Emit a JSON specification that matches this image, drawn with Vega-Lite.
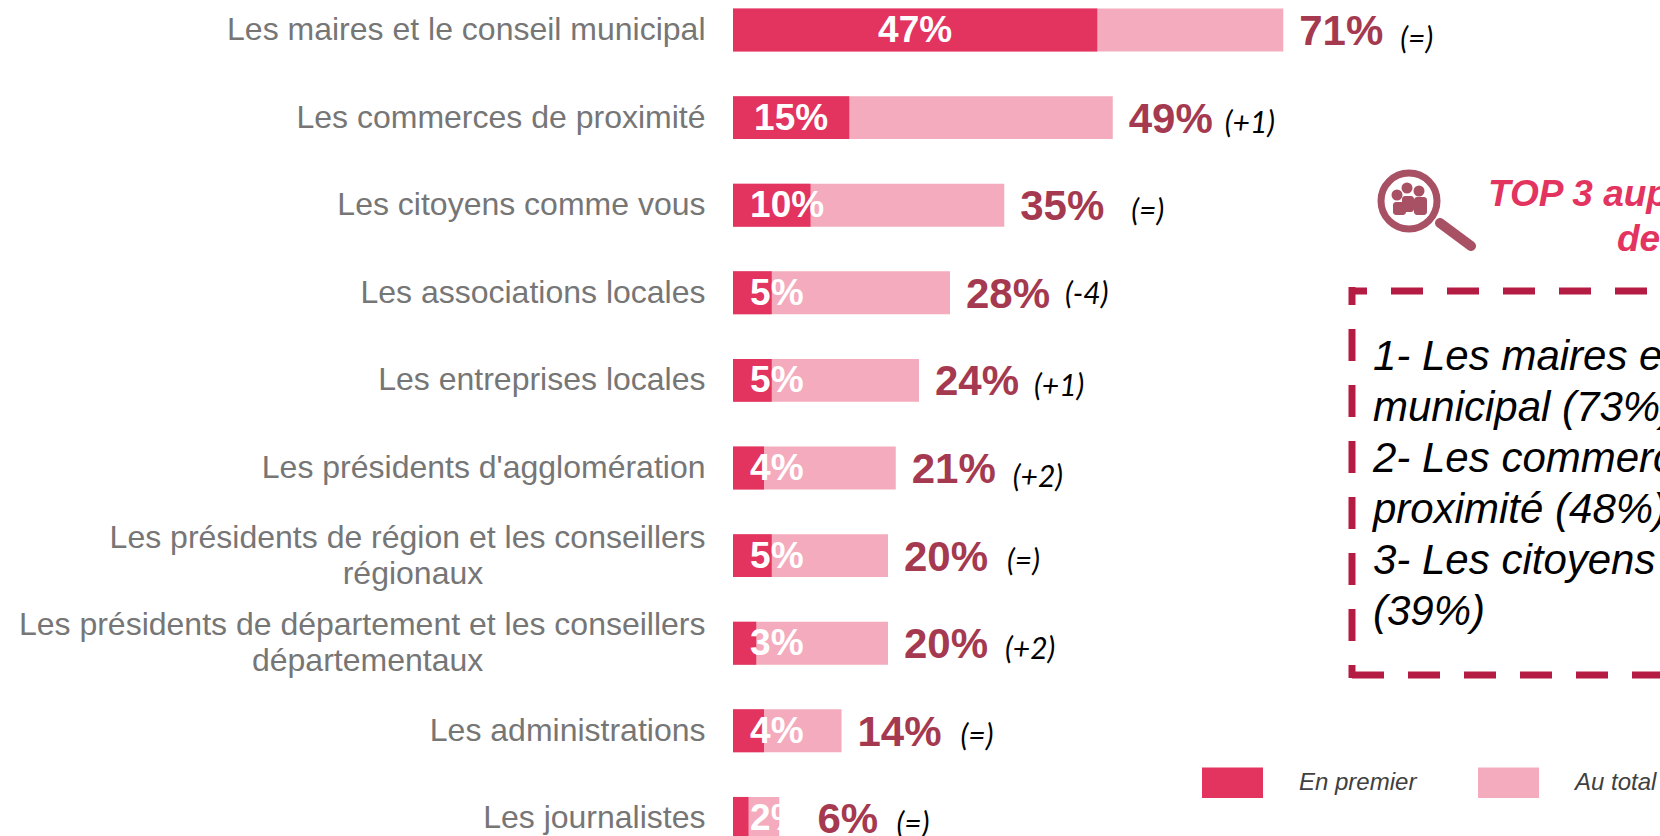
{"$schema":"https://vega.github.io/schema/vega-lite/v6.json","width":1660,"height":836,"padding":0,"autosize":{"type":"none"},"background":"white","config":{"view":{"stroke":null}},
"resolve":{"scale":{"x":"independent","y":"independent"}},
"layer":[
{"data":{"values":[
{"acteur":"Les maires et le conseil municipal","En premier":47,"Au total":71,"evolution":"(=)"},
{"acteur":"Les commerces de proximité","En premier":15,"Au total":49,"evolution":"(+1)"},
{"acteur":"Les citoyens comme vous","En premier":10,"Au total":35,"evolution":"(=)"},
{"acteur":"Les associations locales","En premier":5,"Au total":28,"evolution":"(-4)"},
{"acteur":"Les entreprises locales","En premier":5,"Au total":24,"evolution":"(+1)"},
{"acteur":"Les présidents d'agglomération","En premier":4,"Au total":21,"evolution":"(+2)"},
{"acteur":"Les présidents de région et les conseillers|régionaux","En premier":5,"Au total":20,"evolution":"(=)"},
{"acteur":"Les présidents de département et les conseillers|départementaux","En premier":3,"Au total":20,"evolution":"(+2)"},
{"acteur":"Les administrations","En premier":4,"Au total":14,"evolution":"(=)"},
{"acteur":"Les journalistes","En premier":2,"Au total":6,"evolution":"(=)"}
]},
"transform":[{"calculate":"datum['En premier']+'%'","as":"premierLabel"},{"calculate":"datum['Au total']+'%'","as":"totalLabel"},{"calculate":"datum['En premier']/2","as":"premierMid"}],
"encoding":{"y":{"field":"acteur","type":"nominal","axis":{"title":null,"orient":"left","offset":-705,"domain":false,"ticks":false,"grid":false,"labelPadding":0,"labelFont":"Liberation Sans","labelFontSize":32,"labelColor":"#767676","labelLimit":800,"labelLineHeight":36,"labelOverlap":false,"labelExpr":"indexof(datum.value,'|')>=0 ? [split(datum.value,'|')[0], split(datum.value,'|')[1]+'\u00a0\u00a0\u00a0\u00a0\u00a0\u00a0\u00a0\u00a0\u00a0\u00a0\u00a0\u00a0\u00a0\u00a0\u00a0\u00a0\u00a0\u00a0\u00a0\u00a0\u00a0\u00a0\u00a0\u00a0\u00a0\u200b'] : datum.value","labelOffset":{"condition":{"test":"indexof(datum.value,'|')>=0","value":-18},"value":0}},"scale":{"type":"band","domain":["Les maires et le conseil municipal","Les commerces de proximité","Les citoyens comme vous","Les associations locales","Les entreprises locales","Les présidents d'agglomération","Les présidents de région et les conseillers|régionaux","Les présidents de département et les conseillers|départementaux","Les administrations","Les journalistes"],"range":[-13.8,862.2],"paddingInner":0.51,"paddingOuter":0.255}}},
"layer":[
{"transform":[{"fold":["Au total","En premier"],"as":["serie","valeur"]}],
"mark":{"type":"bar"},
"encoding":{
"x":{"field":"valeur","type":"quantitative","stack":null,"axis":null,"scale":{"domain":[-94.58,119.61],"range":[0,1660],"nice":false,"zero":false}},
"color":{"field":"serie","type":"nominal","scale":{"domain":["En premier","Au total"],"range":["#e3335f","#f4abbd"]},
"legend":{"orient":"none","legendX":1202,"legendY":752,"direction":"horizontal","columns":2,"title":null,"symbolType":"M-1,-0.5H1V0.5H-1Z","symbolSize":3721,"symbolStrokeWidth":0,"symbolOpacity":1,"labelFont":"Liberation Sans","labelFontStyle":"italic","labelFontSize":24,"labelColor":"#404040","labelOffset":36,"columnPadding":61,"padding":0}}}},
{"transform":[{"filter":"datum['En premier']>=15"}],"mark":{"type":"text","align":"center","baseline":"middle","font":"Liberation Sans","fontWeight":"bold","fontSize":37,"color":"white","dy":1},
"encoding":{"x":{"field":"premierMid","type":"quantitative"},"text":{"field":"premierLabel"}}},
{"transform":[{"filter":"datum['En premier']<15"}],"mark":{"type":"text","align":"left","baseline":"middle","font":"Liberation Sans","fontWeight":"bold","fontSize":37,"color":"white","dy":1},
"encoding":{"x":{"datum":2.2},"text":{"field":"premierLabel"}}},
{"transform":[{"filter":"datum['En premier']==2"}],"mark":{"type":"bar","color":"white"},
"encoding":{"x":{"field":"Au total","type":"quantitative"},"x2":{"datum":9}}},
{"transform":[{"filter":"datum['Au total']>6"}],"mark":{"type":"text","align":"left","baseline":"middle","font":"Liberation Sans","fontWeight":"bold","fontSize":42,"color":"#a5394f","dx":16,"dy":2},
"encoding":{"x":{"field":"Au total","type":"quantitative"},"text":{"field":"totalLabel"}}},
{"transform":[{"filter":"datum['Au total']==6"}],"mark":{"type":"text","align":"left","baseline":"middle","font":"Liberation Sans","fontWeight":"bold","fontSize":42,"color":"#a5394f","dx":38,"dy":2},
"encoding":{"x":{"field":"Au total","type":"quantitative"},"text":{"field":"totalLabel"}}},
{"transform":[{"filter":"datum['Au total']==6||(datum['Au total']==20&&datum.evolution=='(+2)')"}],"mark":{"type":"text","align":"left","baseline":"middle","font":"Lato","fontStyle":"italic","fontSize":30,"color":"black","dx":117,"dy":7},
"encoding":{"x":{"field":"Au total","type":"quantitative"},"text":{"field":"evolution"}}},
{"transform":[{"filter":"datum['Au total']==14||(datum['Au total']==20&&datum.evolution=='(=)')"}],"mark":{"type":"text","align":"left","baseline":"middle","font":"Lato","fontStyle":"italic","fontSize":30,"color":"black","dx":119,"dy":6},
"encoding":{"x":{"field":"Au total","type":"quantitative"},"text":{"field":"evolution"}}},
{"transform":[{"filter":"datum['Au total']==24"}],"mark":{"type":"text","align":"left","baseline":"middle","font":"Lato","fontStyle":"italic","fontSize":30,"color":"black","dx":115,"dy":7},
"encoding":{"x":{"field":"Au total","type":"quantitative"},"text":{"field":"evolution"}}},
{"transform":[{"filter":"datum['Au total']==71||datum['Au total']==21"}],"mark":{"type":"text","align":"left","baseline":"middle","font":"Lato","fontStyle":"italic","fontSize":30,"color":"black","dx":117,"dy":10},
"encoding":{"x":{"field":"Au total","type":"quantitative"},"text":{"field":"evolution"}}},
{"transform":[{"filter":"datum['Au total']==28"}],"mark":{"type":"text","align":"left","baseline":"middle","font":"Lato","fontStyle":"italic","fontSize":30,"color":"black","dx":115,"dy":2},
"encoding":{"x":{"field":"Au total","type":"quantitative"},"text":{"field":"evolution"}}},
{"transform":[{"filter":"datum['Au total']==49"}],"mark":{"type":"text","align":"left","baseline":"middle","font":"Lato","fontStyle":"italic","fontSize":30,"color":"black","dx":112,"dy":6},
"encoding":{"x":{"field":"Au total","type":"quantitative"},"text":{"field":"evolution"}}},
{"transform":[{"filter":"datum['Au total']==35"}],"mark":{"type":"text","align":"left","baseline":"middle","font":"Lato","fontStyle":"italic","fontSize":30,"color":"black","dx":127,"dy":7},
"encoding":{"x":{"field":"Au total","type":"quantitative"},"text":{"field":"evolution"}}}
]},
{"data":{"values":[{}]},
"encoding":{"x":{"datum":0,"type":"quantitative","axis":null,"scale":{"domain":[0,1660],"range":[0,1660],"nice":false,"zero":false}},"y":{"datum":0,"type":"quantitative","axis":null,"scale":{"domain":[0,836],"range":[0,836],"nice":false,"zero":false}}},
"layer":[
{"mark":{"type":"rule","color":"#b51c43","strokeWidth":7,"strokeDash":[32,24],"strokeDashOffset":14},"encoding":{"x":{"datum":1349},"x2":{"datum":1700},"y":{"datum":291}}},
{"mark":{"type":"rule","color":"#b51c43","strokeWidth":7,"strokeDash":[32,24],"strokeDashOffset":14},"encoding":{"x":{"datum":1352},"y":{"datum":287},"y2":{"datum":678}}},
{"mark":{"type":"rule","color":"#b51c43","strokeWidth":7,"strokeDash":[32,24]},"encoding":{"x":{"datum":1352},"x2":{"datum":1700},"y":{"datum":675}}},
{"mark":{"type":"text","align":"left","baseline":"alphabetic","font":"Liberation Sans","fontStyle":"italic","fontSize":42,"color":"black","lineBreak":"|","lineHeight":51},"encoding":{"x":{"datum":1373},"y":{"datum":370},"text":{"value":"1- Les maires et le conseil|municipal (73%)|2- Les commerces de|proximité (48%)|3- Les citoyens comme vous|(39%)"}}},
{"mark":{"type":"text","align":"left","baseline":"alphabetic","font":"Liberation Sans","fontStyle":"italic","fontWeight":"bold","fontSize":37,"color":"#e3335f"},"encoding":{"x":{"datum":1488},"y":{"datum":206},"text":{"value":"TOP 3 auprès des habitants"}}},
{"mark":{"type":"text","align":"left","baseline":"alphabetic","font":"Liberation Sans","fontStyle":"italic","fontWeight":"bold","fontSize":37,"color":"#e3335f"},"encoding":{"x":{"datum":1617},"y":{"datum":251},"text":{"value":"des communes"}}},
{"mark":{"type":"rule","color":"#a85064","strokeWidth":10,"strokeCap":"round"},"encoding":{"x":{"datum":1440},"x2":{"datum":1471},"y":{"datum":223},"y2":{"datum":246}}},
{"mark":{"type":"point","shape":"circle","filled":false,"color":"#a85064","strokeWidth":7,"size":3136,"opacity":1},"encoding":{"x":{"datum":1409},"y":{"datum":201}}},
{"mark":{"type":"point","shape":"circle","filled":true,"color":"#a85064","size":121,"opacity":1},"encoding":{"x":{"datum":1397},"y":{"datum":195}}},
{"mark":{"type":"point","shape":"circle","filled":true,"color":"#a85064","size":121,"opacity":1},"encoding":{"x":{"datum":1407},"y":{"datum":188}}},
{"mark":{"type":"point","shape":"circle","filled":true,"color":"#a85064","size":121,"opacity":1},"encoding":{"x":{"datum":1419},"y":{"datum":191}}},
{"mark":{"type":"rect","color":"#a85064","cornerRadius":3},"encoding":{"x":{"datum":1393},"x2":{"datum":1406},"y":{"datum":202},"y2":{"datum":215}}},
{"mark":{"type":"rect","color":"#a85064","cornerRadius":3},"encoding":{"x":{"datum":1402},"x2":{"datum":1414},"y":{"datum":196},"y2":{"datum":212}}},
{"mark":{"type":"rect","color":"#a85064","cornerRadius":3},"encoding":{"x":{"datum":1414},"x2":{"datum":1427},"y":{"datum":197},"y2":{"datum":215}}}
]}
]}
